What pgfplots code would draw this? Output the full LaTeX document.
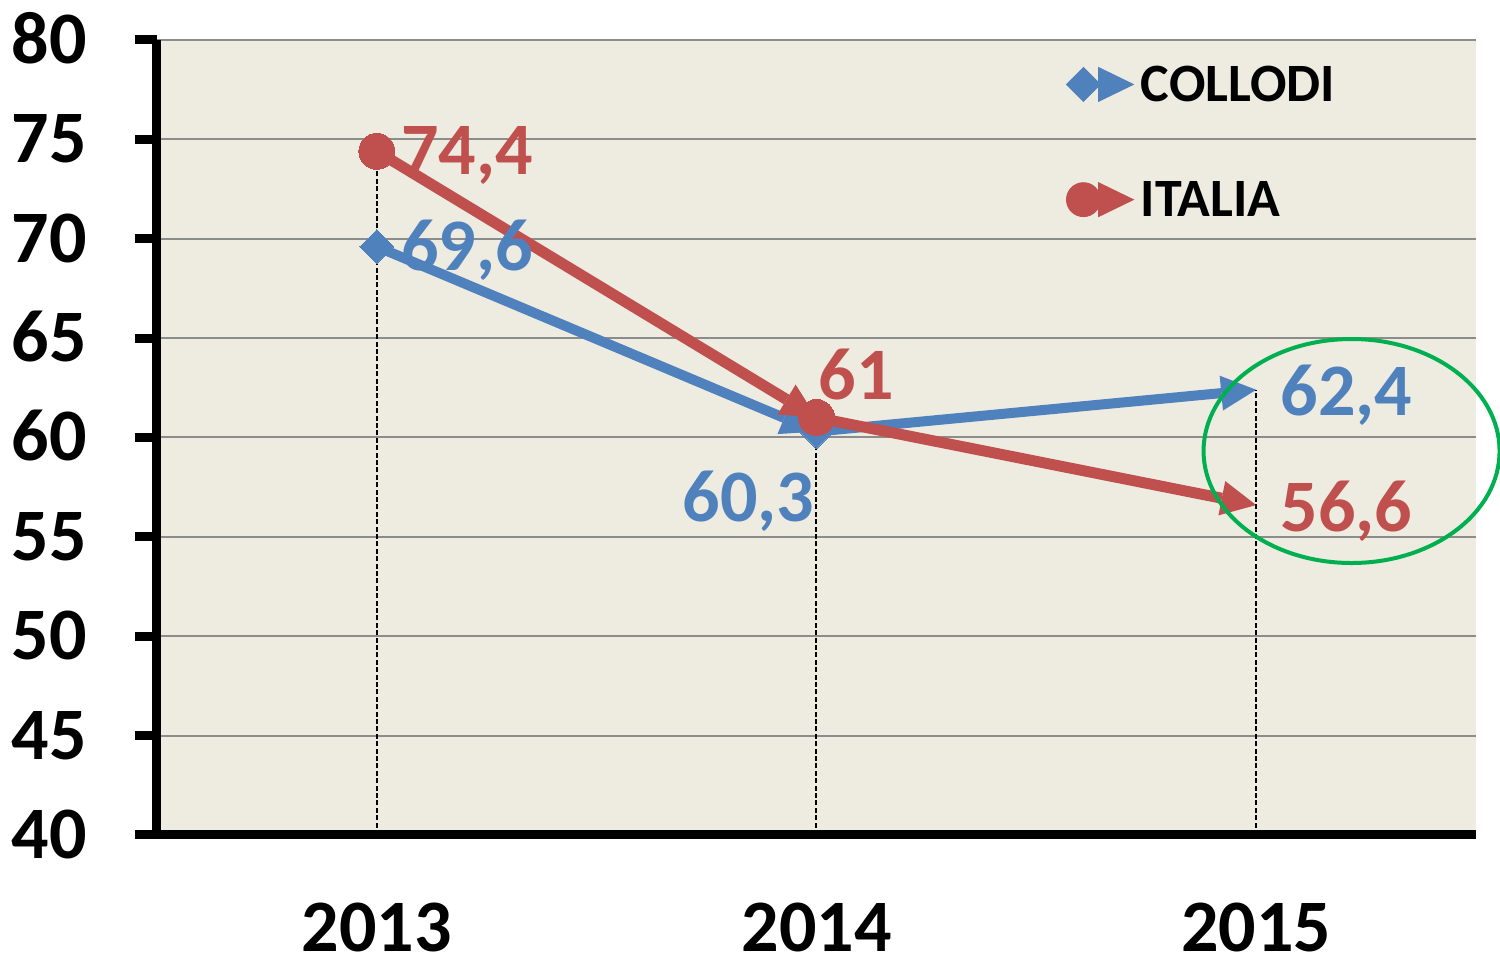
\documentclass[border=0pt]{standalone}
\usepackage{fontspec}
\setmainfont{Carlito}
\usepackage{pgfplots}
\pgfplotsset{compat=1.18}
\usetikzlibrary{arrows.meta}
\definecolor{cblue}{HTML}{4F81BD}
\definecolor{cred}{HTML}{C0504D}
\definecolor{bgc}{HTML}{EEEBE0}
\definecolor{gridc}{HTML}{8C8C8C}
\definecolor{cgreen}{HTML}{00B050}
\tikzset{
  tip/.style={-{Triangle[length=17.5pt,width=17.5pt,line width=0pt]}},
  lbl/.style={inner sep=0pt, font=\fontsize{37}{40}\selectfont\bfseries},
}
\begin{document}
\begin{tikzpicture}
\path[use as bounding box] (-78.5pt,-61.5pt) rectangle (671.5pt,417.5pt);
\clip (-78.5pt,-61.5pt) rectangle (671.5pt,417.5pt);
\begin{axis}[
  at={(0pt,0pt)}, anchor=south west,
  scale only axis, width=659.5pt, height=397.5pt,
  xmin=-0.5, xmax=2.5, ymin=40, ymax=80,
  xtick={0,1,2}, xticklabels={2013,2014,2015},
  ytick={40,45,...,80},
  axis x line=bottom, axis y line=left,
  axis line style={line width=4.5pt, black, -},
  axis background/.style={fill=bgc},
  ymajorgrids, major grid style={gridc, line width=1pt},
  tick align=outside, major tick length=11pt,
  ytick style={line width=4.5pt, black},
  xtick style={draw=none},
  /pgf/number format/assume math mode=true,
  every tick label/.append style={font=\fontsize{37}{40}\selectfont\bfseries, inner sep=0pt},
  yticklabel style={anchor=base east, xshift=-24pt, yshift=-11.7pt},
  xticklabel style={anchor=base, yshift=-47.5pt},
  clip=false,
  legend style={draw=none, fill=none, inner sep=0pt, outer sep=0pt,
    at={(axis description cs:0.6892,0.967)}, anchor=north west,
    font=\fontsize{27}{30}\selectfont\bfseries,
    nodes={inner sep=0pt}, row sep=38.5pt, column sep=3.5pt},
  legend cell align=left,
]
% COLLODI
\addplot[cblue, line width=5pt, tip, forget plot] coordinates {(0,69.6) (1,60.3)};
\addplot[cblue, line width=5pt, tip, forget plot] coordinates {(1,60.3) (2,62.4)};
\addplot[cblue, only marks, mark=square*, mark size=6pt, mark options={rotate=45, fill=cblue, draw=cblue, line width=0pt}, forget plot] coordinates {(0,69.6) (1,60.3)};
% ITALIA
\addplot[cred, line width=5.5pt, tip, forget plot] coordinates {(0,74.4) (1,61)};
\addplot[cred, line width=5.5pt, tip, forget plot] coordinates {(1,61) (2,56.6)};
\addplot[cred, only marks, mark=*, mark size=9pt, mark options={fill=cred, draw=cred, line width=0pt}, forget plot] coordinates {(0,74.4) (1,61)};
% drop lines
\addplot[black, line width=1pt, dash pattern=on 2.5pt off 1.2pt, forget plot] coordinates {(0,40) (0,74.4)};
\addplot[black, line width=1pt, dash pattern=on 2.5pt off 1.2pt, forget plot] coordinates {(1,40) (1,61)};
\addplot[black, line width=1pt, dash pattern=on 2.5pt off 1.2pt, forget plot] coordinates {(2,40) (2,62.4)};
% legend
\addlegendimage{legend image code/.code={
  \fill[cblue] (8.5pt,9pt)--(17pt,0.5pt)--(8.5pt,-8pt)--(0pt,0.5pt)--cycle;
  \fill[cblue] (16pt,9pt)--(33.5pt,0.5pt)--(16pt,-8pt)--cycle;}}
\addlegendentry{COLLODI}
\addlegendimage{legend image code/.code={
  \fill[cred] (8.5pt,0.5pt) circle (8.5pt);
  \fill[cred] (16pt,9pt)--(33.5pt,0.5pt)--(16pt,-8pt)--cycle;}}
\addlegendentry{ITALIA}
% labels
\node[lbl, cred, anchor=base west, xshift=12pt, yshift=-11.7pt] at (axis cs:0,74.4) {74,4};
\node[lbl, cblue, anchor=base west, xshift=12pt, yshift=-11.7pt] at (axis cs:0,69.6) {69,6};
\node[lbl, cred, anchor=base west, xshift=1pt, yshift=9pt] at (axis cs:1,61) {61};
\node[lbl, cblue, anchor=base east, xshift=-1pt, yshift=-45pt] at (axis cs:1,60.3) {60,3};
\node[lbl, cblue, anchor=base west, xshift=12pt, yshift=-13pt] at (axis cs:2,62.4) {62,4};
\node[lbl, cred, anchor=base west, xshift=12pt, yshift=-13pt] at (axis cs:2,56.6) {56,6};
% highlight
\draw[cgreen, line width=2pt] (axis cs:2.217,59.32) ellipse [x radius=74pt, y radius=56pt];
\end{axis}
\end{tikzpicture}
\end{document}
